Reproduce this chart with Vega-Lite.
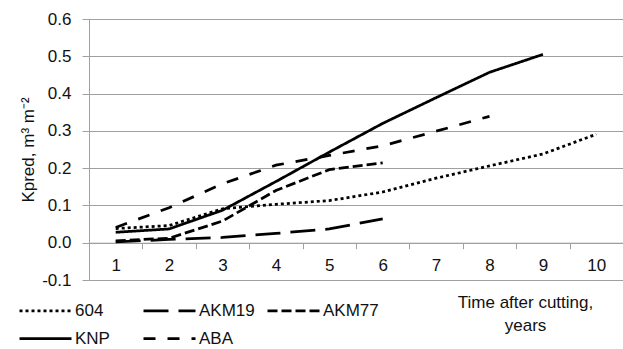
{
  "$schema": "https://vega.github.io/schema/vega-lite/v6.json",
  "width": 534,
  "height": 261,
  "autosize": "none",
  "padding": {"left": 89, "top": 19, "right": 0, "bottom": 69},
  "background": "white",
  "config": {
    "view": {"stroke": null},
    "font": "Liberation Sans",
    "axis": {"labelFont": "Liberation Sans", "titleFont": "Liberation Sans", "labelColor": "#111111", "titleColor": "#111111"},
    "legend": {"labelFont": "Liberation Sans", "labelColor": "#111111"}
  },
  "data": {
    "values": [
      {"s": "604", "t": 1, "v": 0.038}, {"s": "604", "t": 2, "v": 0.046}, {"s": "604", "t": 3, "v": 0.091}, {"s": "604", "t": 4, "v": 0.103}, {"s": "604", "t": 5, "v": 0.113}, {"s": "604", "t": 6, "v": 0.136}, {"s": "604", "t": 7, "v": 0.173}, {"s": "604", "t": 8, "v": 0.206}, {"s": "604", "t": 9, "v": 0.238}, {"s": "604", "t": 10, "v": 0.291},
      {"s": "AKM19", "t": 1, "v": 0.002}, {"s": "AKM19", "t": 2, "v": 0.009}, {"s": "AKM19", "t": 3, "v": 0.014}, {"s": "AKM19", "t": 4, "v": 0.025}, {"s": "AKM19", "t": 5, "v": 0.037}, {"s": "AKM19", "t": 6, "v": 0.064},
      {"s": "AKM77", "t": 1, "v": 0.005}, {"s": "AKM77", "t": 2, "v": 0.012}, {"s": "AKM77", "t": 3, "v": 0.058}, {"s": "AKM77", "t": 4, "v": 0.14}, {"s": "AKM77", "t": 5, "v": 0.196}, {"s": "AKM77", "t": 6, "v": 0.214},
      {"s": "KNP", "t": 1, "v": 0.028}, {"s": "KNP", "t": 2, "v": 0.037}, {"s": "KNP", "t": 3, "v": 0.087}, {"s": "KNP", "t": 4, "v": 0.164}, {"s": "KNP", "t": 5, "v": 0.243}, {"s": "KNP", "t": 6, "v": 0.32}, {"s": "KNP", "t": 7, "v": 0.389}, {"s": "KNP", "t": 8, "v": 0.457}, {"s": "KNP", "t": 9, "v": 0.505},
      {"s": "ABA", "t": 1, "v": 0.041}, {"s": "ABA", "t": 2, "v": 0.094}, {"s": "ABA", "t": 3, "v": 0.158}, {"s": "ABA", "t": 4, "v": 0.208}, {"s": "ABA", "t": 5, "v": 0.234}, {"s": "ABA", "t": 6, "v": 0.26}, {"s": "ABA", "t": 7, "v": 0.299}, {"s": "ABA", "t": 8, "v": 0.339}
    ]
  },
  "mark": {"type": "line", "strokeWidth": 2.75, "color": "#000000", "strokeCap": "butt"},
  "encoding": {
    "x": {
      "field": "t",
      "type": "ordinal",
      "bandPosition": 0.5,
      "scale": {"type": "band", "domain": [1, 2, 3, 4, 5, 6, 7, 8, 9, 10], "paddingInner": 0, "paddingOuter": 0},
      "axis": {
        "orient": "bottom",
        "offset": -37.29,
        "tickBand": "extent",
        "tickSize": 6,
        "tickColor": "#a0a0a0",
        "domainColor": "#a0a0a0",
        "grid": false,
        "labelAngle": 0,
        "labelFontSize": 17,
        "labelPadding": 9,
        "title": ["Time after cutting,", "years"],
        "titleFontSize": 17,
        "titleFontWeight": "normal",
        "titleX": 436,
        "titleY": 52,
        "titleAlign": "center",
        "titleBaseline": "top",
        "titleLineHeight": 23
      }
    },
    "y": {
      "field": "v",
      "type": "quantitative",
      "scale": {"domain": [-0.1, 0.6], "nice": false, "zero": false},
      "axis": {
        "values": [-0.1, 0, 0.1, 0.2, 0.3, 0.4, 0.5, 0.6],
        "labelExpr": "(datum.value < 0 ? '-' : '') + format(abs(datum.value), '.1f')",
        "grid": true,
        "gridColor": "#a0a0a0",
        "gridWidth": 1,
        "domainColor": "#a0a0a0",
        "tickColor": "#a0a0a0",
        "tickSize": 7,
        "labelFontSize": 17,
        "labelPadding": 11,
        "title": "Kpred, m³ m⁻²",
        "titleFontSize": 17,
        "titleFontWeight": "normal",
        "titleX": -61,
        "titleY": 130.5,
        "titleAngle": -90,
        "titleAlign": "center",
        "titleBaseline": "middle"
      }
    },
    "strokeDash": {
      "field": "s",
      "type": "nominal",
      "scale": {"domain": ["604", "AKM19", "AKM77", "KNP", "ABA"], "range": [[3, 3], [25, 10], [10, 4], [1, 0], [12, 12]]},
      "legend": {
        "title": null,
        "orient": "none",
        "legendX": -71,
        "legendY": 277,
        "direction": "horizontal",
        "columns": 3,
        "gridAlign": "all",
        "symbolType": "M-1,0H3",
        "symbolSize": 676,
        "symbolStrokeWidth": 2.75,
        "symbolStrokeColor": "#000000",
        "symbolFillColor": "transparent",
        "labelFontSize": 17,
        "labelOffset": 28,
        "columnPadding": 7,
        "rowPadding": 5
      }
    }
  }
}
